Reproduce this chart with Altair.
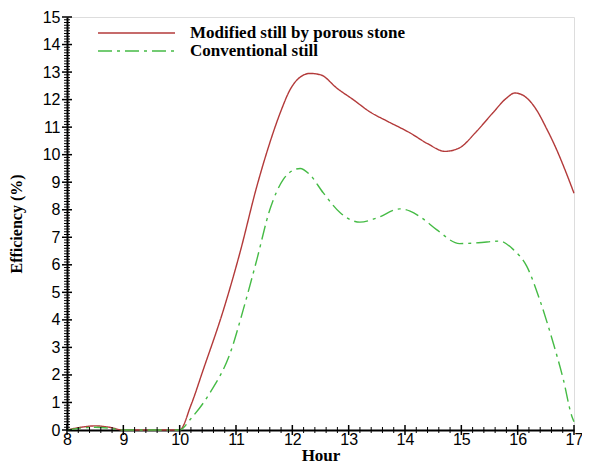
import altair as alt
import pandas as pd

series_names = ["Modified still by porous stone", "Conventional still"]
series_colors = ["#b33a3a", "#45bb45"]

red_hour = [8, 8.25, 8.5, 8.75, 9, 9.5, 10, 10.2, 10.42, 10.78, 11.07, 11.37, 11.6, 11.8, 11.96,
            12.1, 12.31, 12.5, 12.8, 13.08, 13.38, 13.7, 14.09, 14.4, 14.71, 14.97, 15.25, 15.56,
            15.8, 15.95, 16.1, 16.33, 16.5, 16.69, 16.85, 17]
red_eff = [0, 0.1, 0.15, 0.1, 0, 0, 0, 0.9, 2.2, 4.38, 6.44, 8.85, 10.43, 11.6, 12.36,
           12.75, 12.95, 12.9, 12.4, 12.0, 11.55, 11.2, 10.79, 10.4, 10.12, 10.25, 10.8, 11.52,
           12.05, 12.24, 12.15, 11.64, 11.0, 10.19, 9.4, 8.6]

green_hour = [8, 8.25, 8.5, 8.75, 9, 9.5, 10, 10.19, 10.54, 10.9, 11.13, 11.37, 11.6, 11.84, 12.0,
              12.14, 12.3, 12.55, 12.85, 13.2, 13.5, 13.91, 14.09, 14.3, 14.56, 14.97, 15.3, 15.68,
              15.92, 16.16, 16.39, 16.63, 16.81, 16.96, 17]
green_eff = [0, 0.07, 0.1, 0.07, 0, 0, 0, 0.39, 1.36, 2.81, 4.38, 6.19, 8.0, 9.1, 9.42,
             9.5, 9.3, 8.61, 7.89, 7.55, 7.7, 8.03, 7.95, 7.7, 7.28, 6.77, 6.8, 6.86,
             6.56, 5.95, 4.74, 3.17, 1.84, 0.51, 0.3]

x_major = list(range(8, 18))
y_major = list(range(0, 16))
x_minor = [round(8 + i * 0.2, 2) for i in range(46) if i % 5 != 0]
y_minor = [round(i * 0.1, 2) for i in range(151) if i % 10 != 0]

W, H = 507, 413

df = pd.concat([
    pd.DataFrame({"hour": red_hour, "eff": red_eff, "series": series_names[0]}),
    pd.DataFrame({"hour": green_hour, "eff": green_eff, "series": series_names[1]}),
])

xscale = alt.Scale(domain=[8, 17], nice=False, zero=False)
yscale = alt.Scale(domain=[0, 15], nice=False)

xaxis = alt.Axis(values=x_major, format="d", labelOverlap=False, ticks=False, grid=False,
                 domainColor="black", domainWidth=2, labelFont="Liberation Sans",
                 labelFontSize=16, labelColor="black", labelPadding=1, labelFlush=False,
                 titleFont="Liberation Serif", titleFontWeight="bold",
                 titleFontSize=17, titleColor="black", titlePadding=0)
yaxis = alt.Axis(values=y_major, format="d", labelOverlap=False, ticks=False, grid=False,
                 domainColor="black", domainWidth=2, labelFont="Liberation Sans",
                 labelFontSize=16, labelColor="black", labelPadding=7, labelFlush=False,
                 titleFont="Liberation Serif", titleFontWeight="bold",
                 titleFontSize=16, titleColor="black", titlePadding=18)

X = alt.X("hour:Q", scale=xscale, title="Hour", axis=xaxis)
Y = alt.Y("eff:Q", scale=yscale, title="Efficiency (%)", axis=yaxis)

lines = alt.Chart(df).mark_line(interpolate="monotone", strokeWidth=1.4).encode(
    x=X, y=Y,
    color=alt.Color("series:N", scale=alt.Scale(domain=series_names, range=series_colors), legend=None),
    strokeDash=alt.StrokeDash("series:N", scale=alt.Scale(domain=series_names, range=[[1, 0], [14, 5, 3, 5]]), legend=None),
)

xmaj = alt.Chart(pd.DataFrame({"hour": x_major})).mark_rule(color="black", strokeWidth=1.5).encode(
    x=X, y=alt.value(H - 5), y2=alt.value(H + 5))
xmin = alt.Chart(pd.DataFrame({"hour": x_minor})).mark_rule(color="black", strokeWidth=1).encode(
    x=X, y=alt.value(H - 3), y2=alt.value(H + 3))
ymaj = alt.Chart(pd.DataFrame({"eff": y_major})).mark_rule(color="black", strokeWidth=1.5).encode(
    y=Y, x=alt.value(-5), x2=alt.value(5))
ymin = alt.Chart(pd.DataFrame({"eff": y_minor})).mark_rule(color="black", strokeWidth=1).encode(
    y=Y, x=alt.value(-3), x2=alt.value(3))

leg_red = alt.Chart().mark_rule(color=series_colors[0], strokeWidth=1.4).encode(
    x=alt.value(31), x2=alt.value(108), y=alt.value(16))
leg_green = alt.Chart().mark_rule(color=series_colors[1], strokeWidth=1.4, strokeDash=[14, 5, 3, 5]).encode(
    x=alt.value(31), x2=alt.value(108), y=alt.value(34))
txt_red = alt.Chart().mark_text(text=series_names[0], align="left", baseline="middle",
                                font="Liberation Serif", fontWeight="bold", fontSize=17, color="black").encode(
    x=alt.value(123), y=alt.value(16))
txt_green = alt.Chart().mark_text(text=series_names[1], align="left", baseline="middle",
                                  font="Liberation Serif", fontWeight="bold", fontSize=17, color="black").encode(
    x=alt.value(123), y=alt.value(34))

chart = alt.layer(lines, xmin, xmaj, ymin, ymaj, leg_red, leg_green, txt_red, txt_green).properties(
    width=W, height=H,
    autosize=alt.AutoSizeParams(type="none"),
    padding={"left": 59, "top": 9, "right": 8, "bottom": 38},
).configure_view(stroke="black", strokeWidth=2).configure(background="white")

chart.save("out.html", embed_options={"renderer": "svg", "actions": False})
